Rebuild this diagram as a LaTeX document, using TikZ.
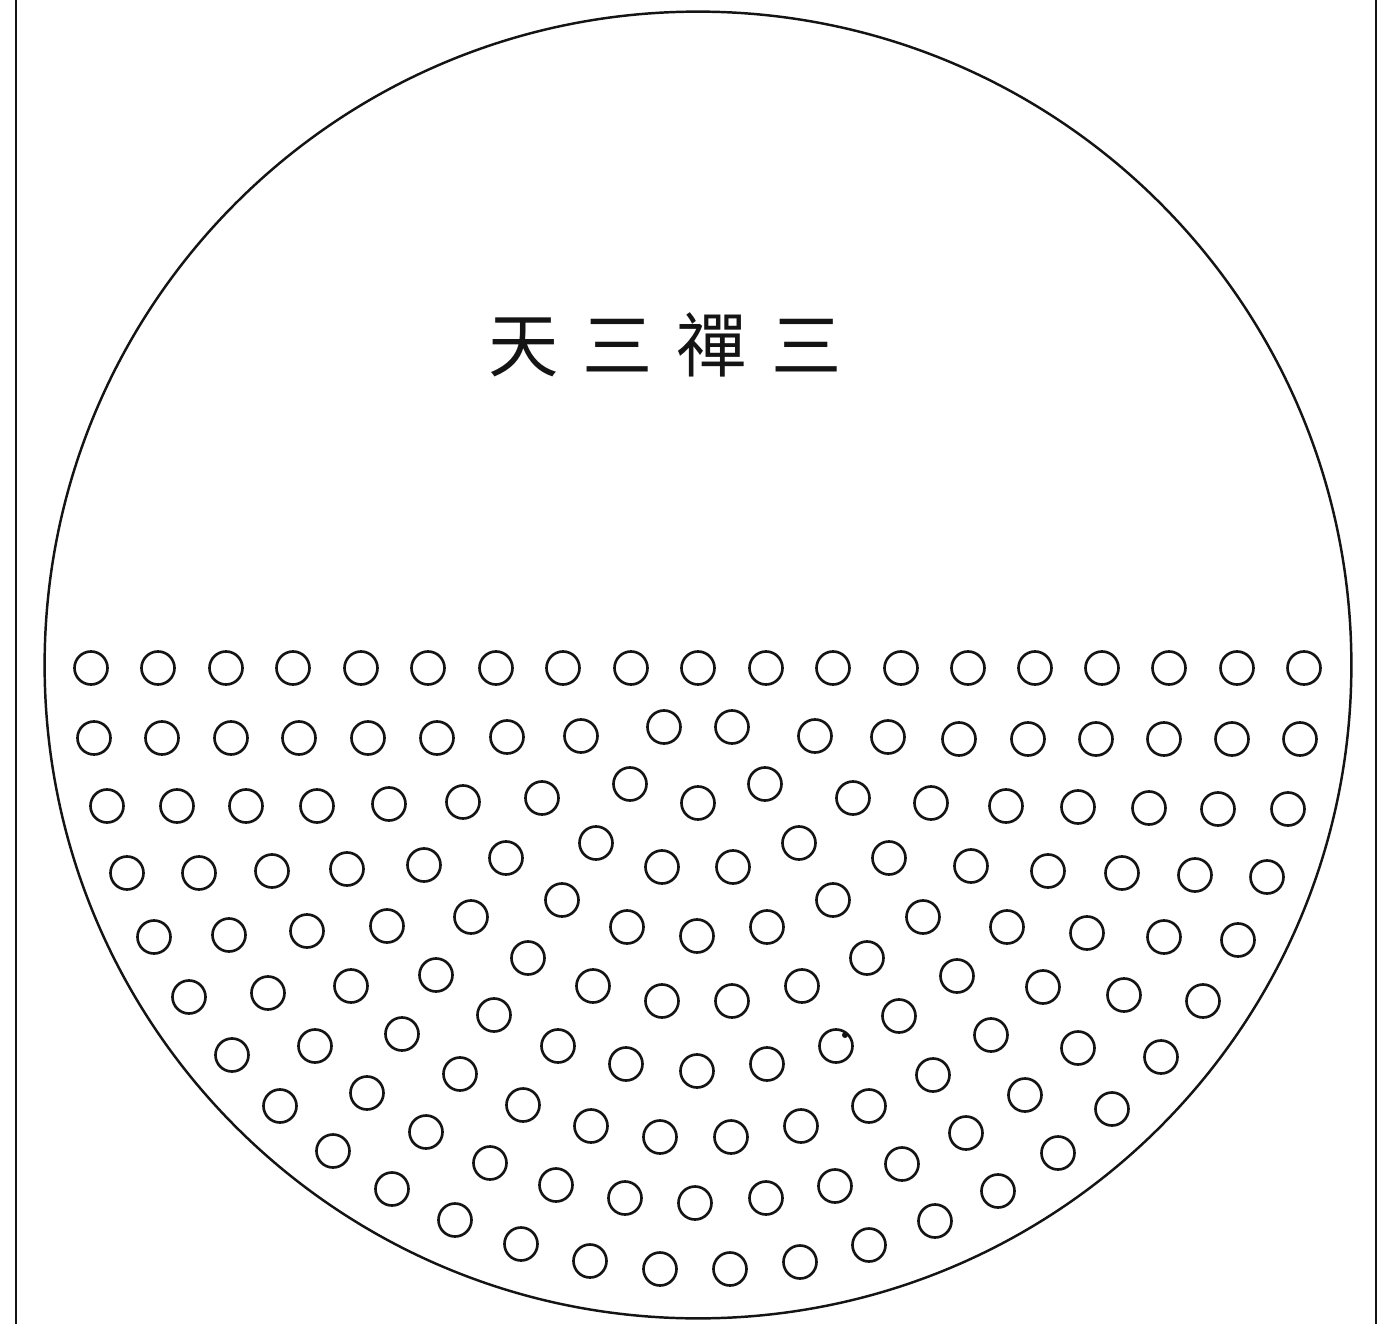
\documentclass[tikz,border=0pt]{standalone}
\usepackage{xcolor}
\usepackage{fontspec}
\usepackage{tikz}
\newfontfamily\cjkfont{Noto Sans CJK TC}
\definecolor{ink}{RGB}{20,20,20}
\tikzset{
  rim/.style={draw=ink, line width=0.7pt},
  frameline/.style={draw=ink, line width=0.8pt},
  hole/.style={draw=ink, line width=0.75pt},
  speck/.style={fill=ink},
  heading/.style={inner sep=0pt, text=ink, font=\cjkfont\fontsize{20pt}{24pt}\selectfont}
}

\begin{document}
\begin{tikzpicture}[x=0.01cm, y=-0.01cm]
  \useasboundingbox (0,0) rectangle (1378,1324);

  % Page rules left and right
  \coordinate (ltop) at (16,0);
  \coordinate (lbot) at (16,1324);
  \coordinate (rtop) at (1376,0);
  \coordinate (rbot) at (1376,1324);
  \draw[frameline] (ltop) -- (lbot);
  \draw[frameline] (rtop) -- (rbot);

  % Great circle
  \coordinate (centre) at (698,665);
  \draw[rim] (centre) circle[radius=6.53cm];

  % Title
  \node[heading] (title) at (665,345) {天\hspace{0.34em}三\hspace{0.34em}禪\hspace{0.34em}三};

  % Row 1
  \foreach \px in {91,158,226,293,361,428,496,563,631,698,766,833,901,968,1035,1102,1169,1237,1304}
    \draw[hole] (\px,668) circle[radius=0.165cm];

  % Row 2
  \foreach \px/\py in {94/738,162/738,231/738,299/738,368/738,437/738,507/737,581/736,664/727,
      732/727,815/736,888/737,959/739,1028/739,1096/739,1164/739,1232/739,1300/739}
    \draw[hole] (\px,\py) circle[radius=0.165cm];

  % Row 3
  \foreach \px/\py in {107/806,177/806,246/806,317/806,389/804,463/802,542/798,630/784,698/803,
      765/784,853/798,931/803,1006/806,1078/807,1149/808,1218/809,1288/809}
    \draw[hole] (\px,\py) circle[radius=0.165cm];

  % Row 4
  \foreach \px/\py in {127/873,199/873,272/871,347/869,424/865,506/858,596/843,662/867,
      733/867,799/843,889/858,971/866,1048/871,1122/873,1195/875,1267/877}
    \draw[hole] (\px,\py) circle[radius=0.165cm];

  % Row 5
  \foreach \px/\py in {154/937,229/935,307/931,387/926,471/917,562/900,627/927,697/936,
      767/927,833/900,923/917,1007/927,1087/933,1164/937,1238/940}
    \draw[hole] (\px,\py) circle[radius=0.165cm];

  % Row 6
  \foreach \px/\py in {189/997,268/993,351/986,436/975,528/958,593/986,662/1001,
      732/1001,802/986,867/958,957/976,1043/987,1124/995,1203/1001}
    \draw[hole] (\px,\py) circle[radius=0.165cm];

  % Row 7
  \foreach \px/\py in {232/1055,315/1046,402/1034,494/1015,558/1046,626/1064,697/1071,
      767/1064,836/1046,899/1016,991/1035,1078/1048,1161/1057}
    \draw[hole] (\px,\py) circle[radius=0.165cm];

  % Row 8
  \foreach \px/\py in {280/1106,367/1093,460/1074,523/1105,591/1126,660/1137,
      731/1137,801/1126,869/1106,933/1075,1025/1095,1112/1109}
    \draw[hole] (\px,\py) circle[radius=0.165cm];

  % Row 9
  \foreach \px/\py in {333/1151,426/1132,490/1163,556/1185,625/1198,695/1203,
      766/1198,835/1186,902/1164,966/1133,1058/1153}
    \draw[hole] (\px,\py) circle[radius=0.165cm];

  % Row 10
  \foreach \px/\py in {392/1189,455/1220,521/1244,590/1261,660/1269,
      730/1269,800/1262,869/1245,935/1221,998/1191}
    \draw[hole] (\px,\py) circle[radius=0.165cm];

  % ink speck
  \fill[speck] (845,1035) circle[radius=0.03cm];
\end{tikzpicture}
\end{document}
